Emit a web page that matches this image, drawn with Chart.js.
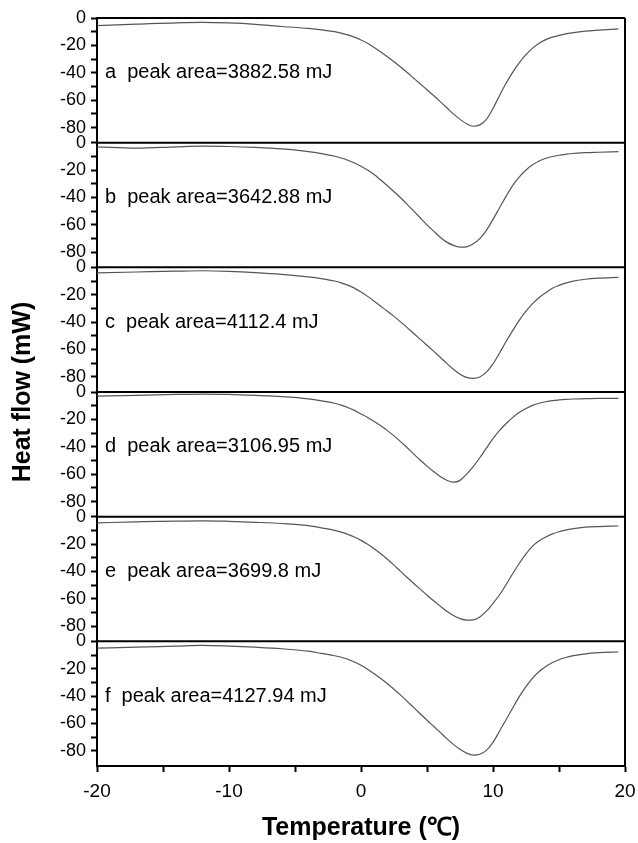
<!DOCTYPE html>
<html>
<head>
<meta charset="utf-8">
<script src="https://cdn.jsdelivr.net/npm/chart.js@4.4.0/dist/chart.umd.min.js"></script>
<style>
  body { margin: 0; background: #fff; }
  #wrap { width: 638px; height: 843px; }
</style>
</head>
<body>
<div id="wrap"><canvas id="dsc-chart" width="638" height="843"></canvas></div>
<script>
// temperature grid (°C) the curves were read at
var temps = [-20, -17, -14, -12, -10, -8, -6, -4, -3,
  -2, -1.5, -1, -0.5, 0, 0.5, 1, 1.5, 2, 2.5, 3, 3.5, 4, 4.5, 5, 5.5, 6, 6.5, 7, 7.5,
  8, 8.5, 9, 9.5, 10, 10.5, 11, 11.5, 12, 12.5, 13, 13.5, 14, 14.5, 15, 15.5, 16,
  17, 18, 19.5];

// heat flow (mW), one array per sample
var flowA = [-5.5, -4.5, -3.5, -3.2, -3.6, -4.6, -6.2, -7.6, -8.6,
  -10, -11, -12.3, -14, -16, -18.5, -21.5, -24.8, -28.3, -32, -35.8, -39.8, -44, -48.2, -52.4, -56.6, -61, -65.5, -70, -74,
  -77.2, -79, -78, -74, -66, -56.5, -47.5, -39.5, -32.5, -26.8, -22, -18.4, -15.8, -14, -12.7, -11.6, -10.8,
  -9.6, -8.9, -8];
var flowB = [-3, -4, -3, -2.5, -2.8, -3.5, -4.6, -6.5, -8,
  -9.9, -11.2, -12.8, -14.8, -17.2, -20, -23.3, -27.3, -31.5, -35.8, -40.2, -45, -50, -55, -60, -64.6, -69, -72.6, -75, -76.2,
  -76, -73.8, -70, -64, -56, -47.5, -39, -31.2, -25, -20, -16.2, -13.4, -11.4, -10.1, -9.2, -8.5, -7.9,
  -7.3, -7, -6.6];
var flowC = [-4, -3.4, -2.8, -2.5, -2.9, -3.8, -5.1, -7, -8.3,
  -10, -11.3, -13, -15.2, -18, -21.2, -24.8, -28.4, -32, -35.8, -39.8, -44, -48.3, -52.6, -56.9, -61.2, -65.6, -70.1, -74.4, -78,
  -80.3, -81, -80, -76.5, -70.5, -62.5, -54, -46, -38.5, -32, -26.5, -22, -18.5, -15.3, -13.2, -11.5, -10.2,
  -8.7, -7.9, -7.3];
var flowD = [-3, -2.5, -1.8, -1.5, -1.8, -2.5, -3.4, -5, -6.5,
  -8.2, -9.6, -11.3, -13.4, -16, -18.6, -21.5, -24.7, -28.2, -32, -36.2, -40.7, -45.3, -49.8, -54.1, -58.1, -61.6, -64.4, -65.8, -64.5,
  -60, -54.5, -48, -41, -34, -28, -23, -18.5, -14.8, -12, -9.8, -8.2, -7.1, -6.3, -5.8, -5.4, -5.1,
  -4.9, -4.7, -4.6];
var flowE = [-4.5, -3.8, -3.2, -3, -3.4, -4.1, -5, -6.6, -8.2,
  -10, -11.3, -12.9, -14.9, -17.3, -20.1, -23.4, -27.1, -31.1, -35.4, -39.9, -44.4, -48.8, -53.1, -57.3, -61.4, -65.3, -69, -72.2, -74.4,
  -75.5, -75.3, -73.2, -69, -63.3, -57, -49.5, -41.5, -34, -27.2, -21.5, -17.6, -14.8, -12.6, -11, -9.8, -8.9,
  -7.7, -7.2, -6.8];
var flowF = [-5, -4.3, -3.5, -3, -3.5, -4.3, -5.4, -7.2, -8.8,
  -10.5, -11.6, -13.1, -15.1, -17.5, -20.3, -23.6, -27.2, -31, -35, -39.3, -43.8, -48.4, -53, -57.6, -62, -66.5, -71, -75.2, -78.8,
  -81.6, -83, -82.4, -79.6, -73.8, -65.5, -57, -48.5, -40.2, -33, -26.8, -22, -18.3, -15.5, -13.4, -11.8, -10.6,
  -9.1, -8.3, -7.8];

var panelLetters = ["a", "b", "c", "d", "e", "f"];
var peakAreas = ["3882.58", "3642.88", "4112.4", "3106.95", "3699.8", "4127.94"];
var yTickLabels = [0, -20, -40, -60, -80];
var xTickLabels = [-20, -10, 0, 10, 20];

var FONT = "'Liberation Sans', Arial, sans-serif";
var flows = [flowA, flowB, flowC, flowD, flowE, flowF];
var panelIds = ["yA", "yB", "yC", "yD", "yE", "yF"];

var datasets = flows.map(function (flow, i) {
  return {
    label: panelLetters[i],
    data: temps.map(function (t, j) { return { x: t, y: flow[j] }; }),
    yAxisID: panelIds[i],
    borderColor: "#555",
    borderWidth: 1.2,
    pointRadius: 0,
    cubicInterpolationMode: "monotone",
    fill: false,
  };
});

var scales = {
  x: {
    type: "linear",
    min: -20,
    max: 20,
    afterFit: function (s) {
      s.height = 77;
      s.paddingLeft = 0;
      s.paddingRight = 0;
    },
    ticks: {
      stepSize: 5,
      padding: 8,
      autoSkip: false,
      maxRotation: 0,
      color: "#000",
      font: { family: FONT, size: 19 },
      callback: function (v) { return xTickLabels.indexOf(v) >= 0 ? v : ""; },
    },
    grid: { drawOnChartArea: false, tickLength: 6, tickWidth: 2, tickColor: "#000" },
    border: { display: true, color: "#000", width: 2 },
    title: {
      display: true,
      text: "Temperature (℃)",
      color: "#000",
      font: { family: FONT, size: 25, weight: "bold" },
      padding: { top: 2, bottom: 0 },
    },
  },
};

// stacked left axes: the last one added ends up on top, so add f first
panelIds.slice().reverse().forEach(function (id) {
  scales[id] = {
    type: "linear",
    position: "left",
    stack: "panels",
    stackWeight: 1,
    min: -91,
    max: 0,
    afterFit: function (s) { s.width = 97; },
    afterBuildTicks: function (s) {
      s.ticks = s.ticks.filter(function (t) { return t.value % 10 === 0; });
    },
    ticks: {
      stepSize: 10,
      padding: 5,
      autoSkip: false,
      color: "#000",
      font: { family: FONT, size: 18 },
      callback: function (v) { return yTickLabels.indexOf(v) >= 0 ? v : ""; },
    },
    grid: { drawOnChartArea: false, tickLength: 6, tickWidth: 2, tickColor: "#000" },
    border: { display: true, color: "#000", width: 2 },
  };
});

// frame lines between panels, sample labels and the shared y title
var panelFrame = {
  id: "panelFrame",
  afterDatasetsDraw: function (chart) {
    var ctx = chart.ctx;
    var area = chart.chartArea;
    ctx.save();
    ctx.strokeStyle = "#000";
    ctx.lineWidth = 2;
    ctx.fillStyle = "#000";
    ctx.font = "20px " + FONT;
    ctx.textBaseline = "middle";
    panelIds.forEach(function (id, i) {
      var s = chart.scales[id];
      ctx.beginPath();
      ctx.moveTo(area.left, s.top);
      ctx.lineTo(area.right, s.top);
      ctx.stroke();
      ctx.fillText(panelLetters[i] + "  peak area=" + peakAreas[i] + " mJ",
        chart.scales.x.getPixelForValue(-19.4), s.getPixelForValue(-40));
    });
    ctx.beginPath();
    ctx.moveTo(area.right, area.top);
    ctx.lineTo(area.right, area.bottom);
    ctx.stroke();

    ctx.translate(23, (area.top + area.bottom) / 2);
    ctx.rotate(-Math.PI / 2);
    ctx.textAlign = "center";
    ctx.font = "bold 25px " + FONT;
    ctx.fillText("Heat flow (mW)", 0, 0);
    ctx.restore();
  },
};

var ctx = document.getElementById("dsc-chart").getContext("2d");
var dscChart = new Chart(ctx, {
  type: "line",
  data: { datasets: datasets },
  options: {
    responsive: false,
    animation: false,
    layout: { padding: { top: 18, right: 13, left: 0, bottom: 0 } },
    plugins: { legend: { display: false }, tooltip: { enabled: false } },
    scales: scales,
  },
  plugins: [panelFrame],
});
</script>
</body>
</html>
